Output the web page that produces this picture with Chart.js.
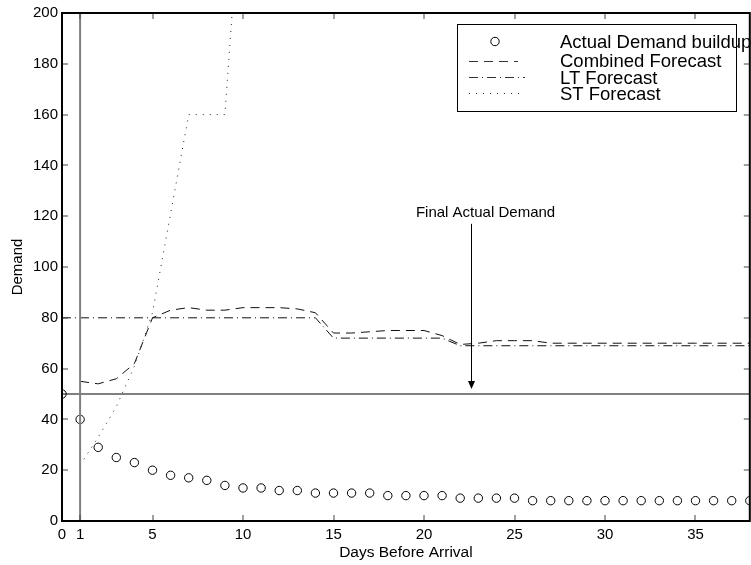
<!DOCTYPE html>
<html><head><meta charset="utf-8">
<script src="https://cdn.jsdelivr.net/npm/chart.js@4/dist/chart.umd.min.js"></script>
<style>html,body{margin:0;padding:0;overflow:hidden;background:#fff}</style>
</head><body>
<div style="width:755px;height:565px"><canvas id="c" width="755" height="565"></canvas></div>
<script>
// ---- data ----
const actualDays = [0,1,2,3,4,5,6,7,8,9,10,11,12,13,14,15,16,17,18,19,20,21,22,23,24,25,26,27,28,29,30,31,32,33,34,35,36,37,38];
const actualDemand = [50,40,29,25,23,20,18,17,16,14,13,13,12,12,11,11,11,11,10,10,10,10,9,9,9,9,8,8,8,8,8,8,8,8,8,8,8,8,8];
const combinedDays = [1,2,3,4,5,6,7,8,9,10,11,12,13,14,15,16,17,18,19,20,21,22,23,24,25,26,27,28,29,30,31,32,33,34,35,36,37,38];
const combinedForecast = [55,54,56,62,80,83,84,83,83,84,84,84,83.5,82,74,74,74.5,75,75,75,73,69.5,70,71,71,71,70,70,70,70,70,70,70,70,70,70,70,70];
const ltDays = [0,1,2,3,4,5,6,7,8,9,10,11,12,13,14,15,16,17,18,19,20,21,22,23,24,25,26,27,28,29,30,31,32,33,34,35,36,37,38];
const ltForecast = [80,80,80,80,80,80,80,80,80,80,80,80,80,80,80,72,72,72,72,72,72,72,69,69,69,69,69,69,69,69,69,69,69,69,69,69,69,69,69];
const stDays = [1,2,3,4,5,6,7,8,9,10];
const stForecast = [22,33,45,61,82,121,160,160,160,260];
const xTickValues = [0,1,5,10,15,20,25,30,35];
const xMin = 0, xMax = 38, yMin = 0, yMax = 200, yStep = 20;
const finalActualDemand = 50;
const forecastStartDay = 1;
const annotationText = 'Final Actual Demand';
const annotationArrowDay = 22.6, annotationArrowTop = 117, annotationArrowTip = 52;
const annotationTextDay = 23.4, annotationTextValue = 121.5;
const legendLabels = ['Actual Demand buildup','Combined Forecast','LT Forecast','ST Forecast'];

const FONT = '"Liberation Sans", Arial, Helvetica, sans-serif';
const toXY = (xs, ys) => xs.map((x, i) => ({x, y: ys[i]}));

const dashCombined = [9,6];
const dashLT = [9,4,1,4];
const dashST = [1,6];

const framePlugin = {
  id: 'frame',
  afterDraw(chart) {
    const {ctx, chartArea: a, scales: {x, y}} = chart;
    ctx.save();
    // tick marks (inward, all four sides)
    ctx.strokeStyle = '#444'; ctx.lineWidth = 1; ctx.setLineDash([]);
    const tl = 6;
    ctx.beginPath();
    xTickValues.forEach(v => {
      const px = Math.round(x.getPixelForValue(v));
      ctx.moveTo(px, a.bottom); ctx.lineTo(px, a.bottom - tl);
      ctx.moveTo(px, a.top); ctx.lineTo(px, a.top + tl);
    });
    for (let v = yMin; v <= yMax; v += yStep) {
      const py = Math.round(y.getPixelForValue(v));
      ctx.moveTo(a.left, py); ctx.lineTo(a.left + tl, py);
      ctx.moveTo(a.right, py); ctx.lineTo(a.right - tl, py);
    }
    ctx.stroke();
    // frame
    ctx.strokeStyle = '#000'; ctx.lineWidth = 2;
    ctx.strokeRect(a.left, a.top, a.right - a.left, a.bottom - a.top);

    // annotation arrow
    const ax = Math.round(x.getPixelForValue(annotationArrowDay)) + 0.5;
    const aTop = y.getPixelForValue(annotationArrowTop);
    const aTip = y.getPixelForValue(annotationArrowTip);
    ctx.lineWidth = 1; ctx.strokeStyle = '#000';
    ctx.beginPath(); ctx.moveTo(ax, aTop); ctx.lineTo(ax, aTip - 6); ctx.stroke();
    ctx.fillStyle = '#000';
    ctx.beginPath(); ctx.moveTo(ax - 3.5, aTip - 8); ctx.lineTo(ax + 3.5, aTip - 8); ctx.lineTo(ax, aTip); ctx.closePath(); ctx.fill();
    ctx.font = '15px ' + FONT; ctx.textAlign = 'center'; ctx.textBaseline = 'middle';
    ctx.fillText(annotationText, x.getPixelForValue(annotationTextDay), y.getPixelForValue(annotationTextValue));

    // legend
    const bx = 457, by = 24, bw = 279, bh = 87;
    ctx.fillStyle = '#fff'; ctx.fillRect(bx, by, bw, bh);
    ctx.strokeStyle = '#000'; ctx.lineWidth = 1;
    ctx.strokeRect(bx + 0.5, by + 0.5, bw, bh);
    const rowMid = [41.5, 60.5, 77, 93];
    const baselines = [48, 67, 83.5, 99.5];
    ctx.beginPath(); ctx.arc(495, rowMid[0], 4.2, 0, Math.PI * 2); ctx.stroke();
    const sample = (yy, dash, x2) => {
      ctx.setLineDash(dash); ctx.beginPath(); ctx.moveTo(469, yy); ctx.lineTo(x2, yy); ctx.stroke();
    };
    ctx.strokeStyle = '#333';
    sample(Math.round(rowMid[1]) + 0.5, dashCombined, 518);
    sample(Math.round(rowMid[2]) + 0.5, dashLT, 525);
    sample(Math.round(rowMid[3]) + 0.5, dashST, 520);
    ctx.setLineDash([]);
    ctx.fillStyle = '#000'; ctx.font = '18.5px ' + FONT; ctx.textAlign = 'left'; ctx.textBaseline = 'alphabetic';
    legendLabels.forEach((t, i) => ctx.fillText(t, 560, baselines[i]));
    ctx.restore();
  }
};

new Chart(document.getElementById('c'), {
  type: 'line',
  data: {
    datasets: [
      {label: 'forecast start', data: [{x: forecastStartDay, y: yMin}, {x: forecastStartDay, y: yMax}],
       borderColor: '#808080', borderWidth: 2, pointRadius: 0},
      {label: 'final actual', data: [{x: xMin, y: finalActualDemand}, {x: xMax, y: finalActualDemand}],
       borderColor: '#000', borderWidth: 1, pointRadius: 0},
      {label: legendLabels[2], data: toXY(ltDays, ltForecast), borderColor: '#111', borderWidth: 1,
       borderDash: dashLT, pointRadius: 0, tension: 0},
      {label: legendLabels[1], data: toXY(combinedDays, combinedForecast), borderColor: '#111', borderWidth: 1,
       borderDash: dashCombined, pointRadius: 0, tension: 0},
      {label: legendLabels[3], data: toXY(stDays, stForecast), borderColor: '#222', borderWidth: 1,
       borderDash: dashST, pointRadius: 0, tension: 0},
      {label: legendLabels[0], data: toXY(actualDays, actualDemand), showLine: false,
       pointStyle: 'circle', pointRadius: 4.2, pointBorderWidth: 1, pointBorderColor: '#000',
       pointBackgroundColor: 'rgba(255,255,255,0)'}
    ]
  },
  options: {
    responsive: false, animation: false, devicePixelRatio: 1,
    layout: {padding: {top: 12, right: 1, left: 0, bottom: 0}},
    plugins: {legend: {display: false}, tooltip: {enabled: false}},
    scales: {
      x: {type: 'linear', min: xMin, max: xMax,
          afterBuildTicks: s => { s.ticks = xTickValues.map(v => ({value: v})); },
          afterFit: s => { s.height = 44; },
          grid: {display: false, drawTicks: false}, border: {display: false},
          ticks: {font: {family: FONT, size: 15}, color: '#000', padding: 5, maxRotation: 0, autoSkip: false},
          title: {display: true, text: 'Days Before Arrival', color: '#000', font: {family: FONT, size: 15.5}, padding: {top: 0, bottom: 3}}
      },
      y: {type: 'linear', min: yMin, max: yMax,
          afterFit: s => { s.width = 62; },
          grid: {display: false, drawTicks: false}, border: {display: false},
          ticks: {stepSize: yStep, font: {family: FONT, size: 15}, color: '#000', padding: 4},
          title: {display: true, text: 'Demand', color: '#000', font: {family: FONT, size: 15}, padding: {top: 9, bottom: 0}}
      }
    }
  },
  plugins: [framePlugin]
});
</script>
</body></html>
